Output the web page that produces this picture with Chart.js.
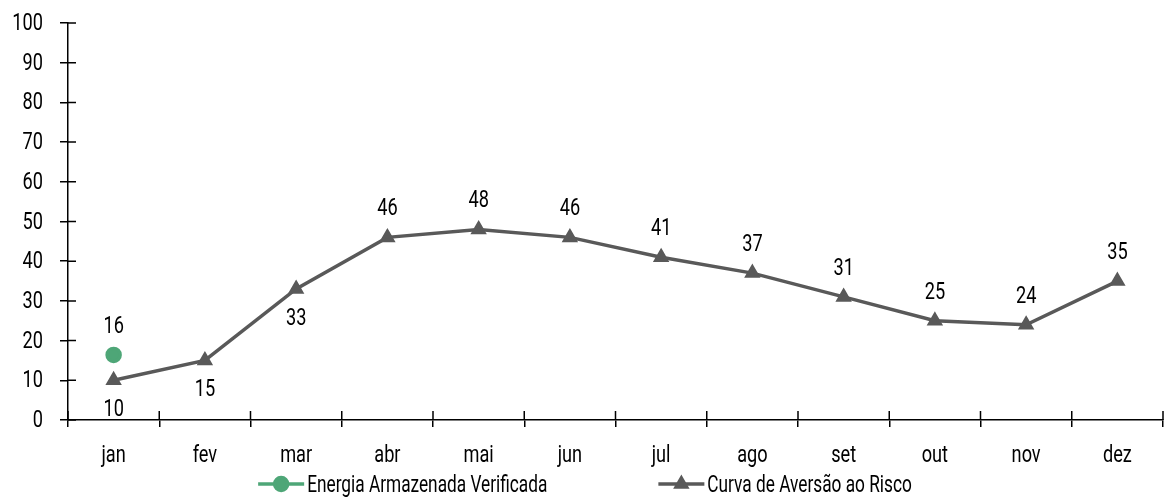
<!DOCTYPE html>
<html>
<head>
<meta charset="utf-8">
<script src="https://cdn.jsdelivr.net/npm/chart.js@4.4.0/dist/chart.umd.min.js"></script>
<style>
  html, body { margin: 0; padding: 0; background: #fff; }
  #wrap { width: 1176px; height: 497px; }
</style>
</head>
<body>
<div id="wrap"><canvas id="grafico"></canvas></div>
<script>
// dados do gráfico
const meses = ['jan', 'fev', 'mar', 'abr', 'mai', 'jun', 'jul', 'ago', 'set', 'out', 'nov', 'dez'];
const energiaVerificada = [16.4, null, null, null, null, null, null, null, null, null, null, null];
const curvaAversao = [10, 15, 33, 46, 48, 46, 41, 37, 31, 25, 24, 35];
const ticksY = [0, 10, 20, 30, 40, 50, 60, 70, 80, 90, 100];

const FONTE = "Roboto, 'Liberation Sans', sans-serif";
const TAM = 23;
const PESO = '400';
const APERTO = 0.79; // simula fonte condensada
const VERDE = '#4ea677';
const CINZA = '#595959';

// rótulos abaixo do ponto (índices da curva)
const rotulosAbaixo = [0, 1, 2];

// texto "condensado"
function textoEstreito(ctx, txt, x, y, fator = 1) {
  ctx.fillText(txt, x, y, ctx.measureText(txt).width * APERTO * fator);
}

// marcas que cruzam os eixos + rótulos dos eixos
const eixos = {
  id: 'eixos',
  afterDraw(chart) {
    const ctx = chart.ctx;
    const xs = chart.scales.x, ys = chart.scales.y;
    ctx.save();
    ctx.strokeStyle = '#000';
    ctx.lineWidth = 1.5;
    ctx.beginPath();
    ys.ticks.forEach((t, i) => {
      const y = ys.getPixelForTick(i);
      ctx.moveTo(ys.right, y);
      ctx.lineTo(ys.right + 8, y);
    });
    const meio = (xs.getPixelForTick(1) - xs.getPixelForTick(0)) / 2;
    for (let i = 0; i <= meses.length; i++) {
      const x = xs.getPixelForTick(0) - meio + i * meio * 2;
      ctx.moveTo(x, xs.top);
      ctx.lineTo(x, xs.top - 9);
    }
    ctx.stroke();

    ctx.font = PESO + ' ' + TAM + 'px ' + FONTE;
    ctx.fillStyle = '#000';
    ctx.textBaseline = 'alphabetic';
    ctx.textAlign = 'right';
    ys.ticks.forEach((t, i) => {
      textoEstreito(ctx, String(t.value), ys.right - 25, ys.getPixelForTick(i) + 7);
    });
    ctx.textAlign = 'center';
    meses.forEach((m, i) => {
      textoEstreito(ctx, m, xs.getPixelForTick(i), xs.top + 42);
    });
    ctx.restore();
  }
};

// rótulos de valor
const rotulos = {
  id: 'rotulos',
  afterDatasetsDraw(chart) {
    const ctx = chart.ctx;
    ctx.save();
    ctx.font = PESO + ' ' + TAM + 'px ' + FONTE;
    ctx.fillStyle = '#000';
    ctx.textAlign = 'center';
    ctx.textBaseline = 'alphabetic';
    chart.data.datasets.forEach((ds, d) => {
      const meta = chart.getDatasetMeta(d);
      meta.data.forEach((pt, i) => {
        const v = ds.data[i];
        if (v === null || v === undefined) return;
        const abaixo = d === 1 && rotulosAbaixo.includes(i);
        textoEstreito(ctx, v.toFixed(0), pt.x, pt.y + (abaixo ? 28 : -30) + 8);
      });
    });
    ctx.restore();
  }
};

// legenda desenhada com linha + marcador
const legenda = {
  id: 'legenda',
  afterDraw(chart) {
    const ctx = chart.ctx;
    ctx.save();
    ctx.font = PESO + ' ' + TAM + 'px ' + FONTE;
    ctx.textBaseline = 'alphabetic';
    const linha = 46, gap = 3, entre = 111, fator = 0.95;
    const itens = chart.data.datasets.map(ds => {
      const tw = ctx.measureText(ds.label).width * APERTO * fator;
      return { ds, w: linha + gap + tw };
    });
    const total = itens.reduce((s, it) => s + it.w, 0) + entre * (itens.length - 1);
    let x = chart.width / 2 - total / 2 - 3;
    const y = 484;
    itens.forEach(it => {
      const ds = it.ds;
      ctx.strokeStyle = ds.borderColor;
      ctx.lineWidth = 3.5;
      ctx.beginPath();
      ctx.moveTo(x, y);
      ctx.lineTo(x + linha, y);
      ctx.stroke();
      ctx.fillStyle = ds.pointBackgroundColor;
      ctx.strokeStyle = ds.pointBackgroundColor;
      Chart.helpers.drawPoint(ctx, { pointStyle: ds.pointStyle, radius: ds.pointRadius, borderWidth: 1 }, x + linha / 2, y);
      ctx.fillStyle = '#000';
      ctx.textAlign = 'left';
      textoEstreito(ctx, ds.label, x + linha + gap, y + 8, fator);
      x += it.w + entre;
    });
    ctx.restore();
  }
};

const ctx = document.getElementById('grafico').getContext('2d');
new Chart(ctx, {
  type: 'line',
  data: {
    labels: meses,
    datasets: [{
      label: 'Energia Armazenada Verificada',
      data: energiaVerificada,
      borderColor: VERDE,
      backgroundColor: VERDE,
      pointBackgroundColor: VERDE,
      pointBorderColor: VERDE,
      pointStyle: 'circle',
      pointRadius: 6.5,
      borderWidth: 3.5,
      showLine: false
    }, {
      label: 'Curva de Aversão ao Risco',
      data: curvaAversao,
      borderColor: CINZA,
      backgroundColor: CINZA,
      pointBackgroundColor: CINZA,
      pointBorderColor: CINZA,
      pointStyle: 'triangle',
      pointRadius: 6,
      borderWidth: 3.5,
      tension: 0
    }]
  },
  options: {
    responsive: true,
    maintainAspectRatio: false,
    animation: false,
    layout: { padding: { top: 0, right: 13, left: 10, bottom: 26 } },
    plugins: {
      legend: { display: false },
      tooltip: { enabled: false }
    },
    scales: {
      x: {
        offset: true,
        afterFit: axis => { axis.height = 51; },
        grid: { offset: true, drawOnChartArea: false, drawTicks: true, tickLength: 7, color: '#000', lineWidth: 1.5 },
        border: { color: '#000', width: 1.5 },
        ticks: { color: 'rgba(0,0,0,0)', padding: 17, font: { family: FONTE, size: 20 } }
      },
      y: {
        min: 0,
        max: 100,
        afterFit: axis => { axis.width = 58; axis.paddingTop = 23; },
        afterBuildTicks: axis => { axis.ticks = ticksY.map(v => ({ value: v })); },
        grid: { drawOnChartArea: false, drawTicks: true, tickLength: 8, color: '#000', lineWidth: 1.5 },
        border: { color: '#000', width: 1.5 },
        ticks: { color: 'rgba(0,0,0,0)', padding: 17, font: { family: FONTE, size: 21 } }
      }
    }
  },
  plugins: [eixos, rotulos, legenda]
});
</script>
</body>
</html>
